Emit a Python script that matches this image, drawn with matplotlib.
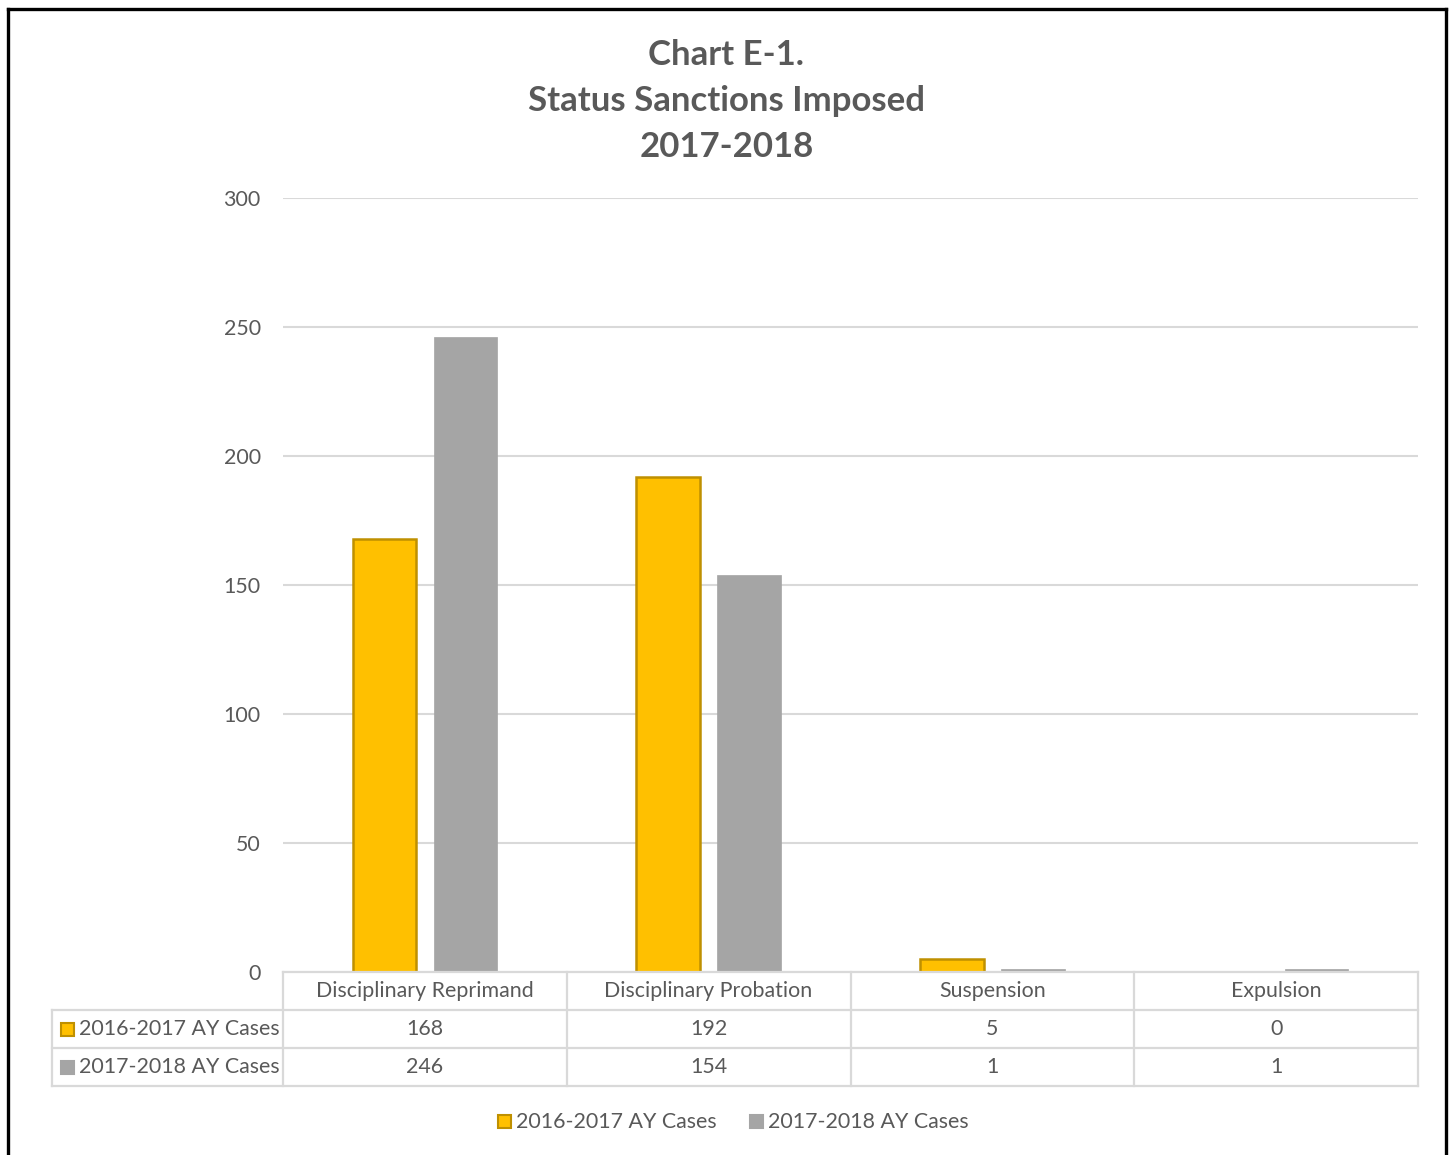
import numpy as np
import matplotlib.pyplot as plt
from matplotlib.lines import Line2D
from matplotlib.patches import Rectangle

categories = ["Disciplinary Reprimand", "Disciplinary Probation", "Suspension", "Expulsion"]
series_names = ["2016-2017 AY Cases", "2017-2018 AY Cases"]
cases_1617 = [168, 192, 5, 0]
cases_1718 = [246, 154, 1, 1]
y_ticks = [0, 50, 100, 150, 200, 250, 300]
title_lines = ["Chart E-1.", "Status Sanctions Imposed", "2017-2018"]

W, H = 1453, 1155
TXT = '#595959'
GRID = '#d9d9d9'
YELLOW = '#FFC000'
YELLOW_EDGE = '#BF9000'
GRAY = '#A5A5A5'
FS = 15.4

plt.rcParams['font.family'] = ['Lato', 'DejaVu Sans']

fig = plt.figure(figsize=(W / 100, H / 100), dpi=100)

def fx(px):
    return px / W

def fy(py):
    return 1 - py / H

# outer frame (open at the bottom)
for xs, ys in [([7.5, 7.5], [H + 5, 9]), ([7.5, 1446], [9, 9]), ([1446, 1446], [9, H + 5])]:
    fig.add_artist(Line2D([fx(x) for x in xs], [fy(y) for y in ys], color='black', lw=2.4))

# title
for i, line in enumerate(title_lines):
    fig.text(0.5, fy(55 + 46 * i), line, ha='center', va='center',
             fontsize=25, fontweight='bold', color=TXT)

# plot area
left, right, top, bottom = 283, 1418, 198, 972
ax = fig.add_axes([fx(left), fy(bottom), fx(right - left), fy(top) - fy(bottom)])
x = np.arange(len(categories))
bw = 0.224
off = 0.143
ax.bar(x - off, cases_1617, bw, color=YELLOW, edgecolor=YELLOW_EDGE, linewidth=1.8, zorder=3)
ax.bar(x + off, cases_1718, bw, color=GRAY, edgecolor=GRAY, linewidth=0.5, zorder=3)
ax.set_xlim(-0.5, len(categories) - 0.5)
ax.set_ylim(0, 300)
ax.set_yticks(y_ticks)
ax.set_xticks([])
ax.tick_params(axis='y', length=0, pad=16, labelsize=FS, labelcolor=TXT)
ax.grid(axis='y', color=GRID, linewidth=1.5, zorder=0)
for s in ax.spines.values():
    s.set_visible(False)

# data table under the plot
tleft = 52
row_h = 38
tab = fig.add_axes([fx(tleft), fy(bottom + 3 * row_h), fx(right - tleft), fy(bottom) - fy(bottom + 3 * row_h)])
tab.set_xlim(tleft, right)
tab.set_ylim(bottom + 3 * row_h, bottom)
tab.axis('off')
col_w = (right - left) / len(categories)
col_edges = [left + col_w * i for i in range(len(categories) + 1)]
lk = dict(color=GRID, lw=1.6, clip_on=False)
# horizontal lines
tab.plot([left, right], [bottom, bottom], **lk)
for r in (1, 2, 3):
    tab.plot([tleft, right], [bottom + r * row_h] * 2, **lk)
# vertical lines
tab.plot([tleft, tleft], [bottom + row_h, bottom + 3 * row_h], **lk)
for cx in col_edges:
    tab.plot([cx, cx], [bottom, bottom + 3 * row_h], **lk)

for i, cat in enumerate(categories):
    cxm = (col_edges[i] + col_edges[i + 1]) / 2
    tab.text(cxm, bottom + row_h * 0.5, cat, ha='center', va='center', fontsize=FS, color=TXT)
    tab.text(cxm, bottom + row_h * 1.5, str(cases_1617[i]), ha='center', va='center', fontsize=FS, color=TXT)
    tab.text(cxm, bottom + row_h * 2.5, str(cases_1718[i]), ha='center', va='center', fontsize=FS, color=TXT)

keys = [(YELLOW, YELLOW_EDGE), (GRAY, GRAY)]
for r, (name, (fc, ec)) in enumerate(zip(series_names, keys)):
    yc = bottom + row_h * (1.5 + r)
    tab.add_patch(Rectangle((61, yc - 6.5), 13, 13, facecolor=fc, edgecolor=ec, lw=1.5, clip_on=False))
    tab.text(79, yc, name, ha='left', va='center', fontsize=FS, color=TXT)

# legend at bottom
legend_items = [(498, series_names[0], keys[0]), (750, series_names[1], keys[1])]
lg = fig.add_axes([0, 0, 1, 1], facecolor='none')
lg.set_xlim(0, W)
lg.set_ylim(H, 0)
lg.axis('off')
for lx, name, (fc, ec) in legend_items:
    lg.add_patch(Rectangle((lx, 1115), 13, 13, facecolor=fc, edgecolor=ec, lw=1.5))
    lg.text(lx + 18, 1121.5, name, ha='left', va='center', fontsize=FS, color=TXT)

fig.savefig('out.png', dpi=100, facecolor='white')
